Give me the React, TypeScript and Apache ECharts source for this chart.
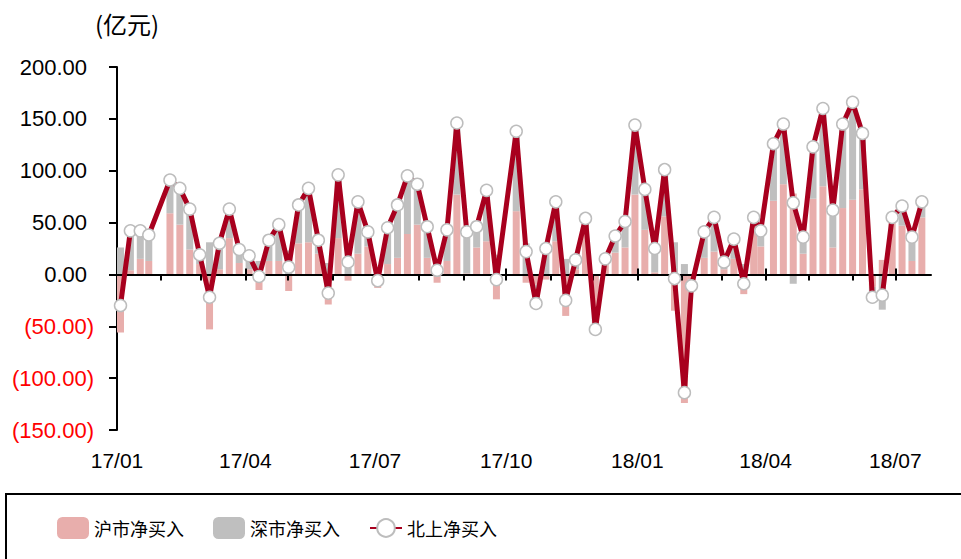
import React, { useEffect, useRef } from "react";
import * as echarts from "echarts";

// Weekly dates (last trading day of each week)
const dates = [
  "2017-01-06", "2017-01-13", "2017-01-20", "2017-01-26", "2017-02-10", "2017-02-17", "2017-02-24",
  "2017-03-03", "2017-03-10", "2017-03-17", "2017-03-24", "2017-03-31", "2017-04-07", "2017-04-14",
  "2017-04-21", "2017-04-28", "2017-05-05", "2017-05-12", "2017-05-19", "2017-05-26", "2017-06-02",
  "2017-06-09", "2017-06-16", "2017-06-23", "2017-06-30", "2017-07-07", "2017-07-14", "2017-07-21",
  "2017-07-28", "2017-08-04", "2017-08-11", "2017-08-18", "2017-08-25", "2017-09-01", "2017-09-08",
  "2017-09-15", "2017-09-22", "2017-09-29", "2017-10-13", "2017-10-20", "2017-10-27", "2017-11-03",
  "2017-11-10", "2017-11-17", "2017-11-24", "2017-12-01", "2017-12-08", "2017-12-15", "2017-12-22",
  "2017-12-29", "2018-01-05", "2018-01-12", "2018-01-19", "2018-01-26", "2018-02-02", "2018-02-09",
  "2018-02-14", "2018-02-23", "2018-03-02", "2018-03-09", "2018-03-16", "2018-03-23", "2018-03-30",
  "2018-04-04", "2018-04-13", "2018-04-20", "2018-04-27", "2018-05-04", "2018-05-11", "2018-05-18",
  "2018-05-25", "2018-06-01", "2018-06-08", "2018-06-15", "2018-06-22", "2018-06-29", "2018-07-06",
  "2018-07-13", "2018-07-20", "2018-07-27",
];

// 沪市净买入 (亿元)
const shanghai = [
  -56, 4, 15, 13, 59, 48, 24,
  10, -53, 5, 35, 11, 5, -15,
  13, 13, -16, 30, 31, 20, -29,
  35, -6, 20, 27, -13, 10, 16,
  39, 48, 16, -8, 13, 77, 1,
  26, 32, -24, 61, -8, -10, -5,
  32, -40, 5, 45, -40, 13, 21,
  26, 77, 43, 2, 56, -35, -124,
  -5, 16, 22, 5, 15, -19, 47,
  27, 71, 87, 78, 20, 73, 85,
  26, 64, 72, 82, -12, 14, 52,
  47, 13, 55,
];

// 深市净买入 (亿元)
const shenzhen = [
  26, 38, 27, 25, 32, 35, 39,
  9, 31, 25, 28, 13, 13, 13,
  20, 35, 23, 37, 52, 13, 11,
  61, 18, 50, 14, 7, 35, 51,
  56, 39, 30, 12, 30, 69, 40,
  20, 49, 19, 77, 30, -18, 30,
  38, 15, 9, 9, -13, 2, 16,
  25, 67, 39, 23, 45, 31, 10,
  -6, 25, 33, 7, 19, 10, 8,
  15, 55, 58, -9, 16, 50, 75,
  36, 81, 94, 54, -10, -34, 3,
  19, 23, 15,
];

// 北上净买入 (亿元)
const northbound = [
  -30, 42, 42, 38, 91, 83, 63,
  19, -22, 30, 63, 24, 18, -2,
  33, 48, 7, 67, 83, 33, -18,
  96, 12, 70, 41, -6, 45, 67,
  95, 87, 46, 4, 43, 146, 41,
  46, 81, -5, 138, 22, -28, 25,
  70, -25, 14, 54, -53, 15, 37,
  51, 144, 82, 25, 101, -4, -114,
  -11, 41, 55, 12, 34, -9, 55,
  42, 126, 145, 69, 36, 123, 160,
  62, 145, 166, 136, -22, -20, 55,
  66, 36, 70,
];

const axisStart = "2017-01-06";
const axisEnd = "2018-07-31";
const monthTicks = [
  "2017-02-06", "2017-03-06", "2017-04-06", "2017-05-06", "2017-06-06", "2017-07-06",
  "2017-08-06", "2017-09-06", "2017-10-06", "2017-11-06", "2017-12-06", "2018-01-06",
  "2018-02-06", "2018-03-06", "2018-04-06", "2018-05-06", "2018-06-06", "2018-07-06",
];
const quarterLabels = [
  "2017-01-06", "2017-04-06", "2017-07-06", "2017-10-06", "2018-01-06", "2018-04-06", "2018-07-06",
];

const Y_MIN = -150;
const Y_MAX = 200;
const Y_STEP = 50;

function ts(s: string): number {
  const [y, m, d] = s.split("-").map(Number);
  return Date.UTC(y, m - 1, d);
}

const LATIN = "'Liberation Sans', Arial, sans-serif";
const CJK = "'Noto Sans CJK SC', sans-serif";

export default function App() {
  const ref = useRef<HTMLDivElement>(null);

  useEffect(() => {
    if (!ref.current) return;
    const chart = echarts.init(ref.current, null, { renderer: "svg" });
    const min = ts(axisStart);
    const max = ts(axisEnd);
    const fmtDate = (v: number) => {
      const d = new Date(v);
      const yy = String(d.getUTCFullYear() % 100).padStart(2, "0");
      const mm = String(d.getUTCMonth() + 1).padStart(2, "0");
      return `${yy}/${mm}`;
    };

    chart.setOption({
      animation: false,
      useUTC: true,
      grid: { left: 117, right: 30, top: 67, bottom: 129, containLabel: false },
      legend: {
        left: 57,
        top: 517,
        padding: 0,
        itemWidth: 32,
        itemHeight: 22,
        itemGap: 29,
        textStyle: { fontFamily: CJK, fontSize: 18, color: "#000" },
        data: ["沪市净买入", "深市净买入", "北上净买入"],
      },
      graphic: [
        {
          type: "rect",
          shape: { x: 6, y: 494, width: 1000, height: 100 },
          style: { fill: "none", stroke: "#000", lineWidth: 2 },
          silent: true,
        },
        {
          type: "text",
          left: 95,
          top: 11,
          style: { text: "(亿元)", fontSize: 24, fontFamily: CJK, fill: "#000" },
        },
      ],
      xAxis: [
        {
          // data axis (time scale) carrying the series
          type: "time",
          min,
          max,
          position: "bottom",
          axisLine: { show: false, onZero: false },
          axisTick: { show: false },
          axisLabel: { show: false },
          splitLine: { show: false },
        },
        {
          // quarterly labels at the bottom of the plot
          type: "value",
          min,
          max,
          position: "bottom",
          axisLine: { show: false, onZero: false },
          axisTick: { show: false },
          splitLine: { show: false },
          axisLabel: {
            customValues: quarterLabels.map(ts),
            formatter: (v: number) => fmtDate(v),
            fontSize: 21,
            fontFamily: LATIN,
            color: "#000",
            margin: 20,
            hideOverlap: false,
          },
        },
        {
          // zero line with monthly ticks
          type: "value",
          min,
          max,
          position: "bottom",
          z: 3,
          axisLine: { show: true, onZero: true, onZeroAxisIndex: 0, lineStyle: { color: "#000", width: 2 } },
          axisTick: {
            show: true,
            customValues: monthTicks.map(ts),
            length: 6,
            lineStyle: { color: "#000", width: 2 },
          },
          axisLabel: { show: false },
          splitLine: { show: false },
        },
        {
          // quarterly crossing ticks
          type: "value",
          min,
          max,
          position: "bottom",
          z: 3,
          axisLine: { show: false, onZero: true, onZeroAxisIndex: 0 },
          axisTick: {
            show: true,
            inside: true,
            customValues: quarterLabels.slice(1).map(ts),
            length: 6,
            lineStyle: { color: "#000", width: 2 },
          },
          axisLabel: { show: false },
          splitLine: { show: false },
        },
      ],
      yAxis: {
        type: "value",
        min: Y_MIN,
        max: Y_MAX,
        interval: Y_STEP,
        axisLine: { show: true, onZero: false, lineStyle: { color: "#000", width: 2 } },
        axisTick: { show: true, length: 8, lineStyle: { color: "#000", width: 2 } },
        splitLine: { show: false },
        axisLabel: {
          margin: 23,
          formatter: (v: number) =>
            v < 0 ? `{neg|(${Math.abs(v).toFixed(2)})}` : `{pos|${v.toFixed(2)}}`,
          rich: {
            neg: { color: "#FF0000", fontSize: 22, fontFamily: LATIN },
            pos: { color: "#000", fontSize: 22, fontFamily: LATIN, padding: [0, 7, 0, 0] },
          },
        },
      },
      series: [
        {
          name: "沪市净买入",
          type: "bar",
          stack: "net",
          barWidth: 7,
          xAxisIndex: 0,
          itemStyle: { color: "#E8AEAC" },
          data: dates.map((d, i) => [ts(d), shanghai[i]]),
        },
        {
          name: "深市净买入",
          type: "bar",
          stack: "net",
          barWidth: 7,
          xAxisIndex: 0,
          itemStyle: { color: "#BFBFBF" },
          data: dates.map((d, i) => [ts(d), shenzhen[i]]),
        },
        {
          name: "北上净买入",
          type: "line",
          xAxisIndex: 0,
          z: 5,
          symbol: "circle",
          symbolSize: 12,
          showAllSymbol: true,
          lineStyle: { color: "#A8001E", width: 5 },
          itemStyle: { color: "#FFFFFF", borderColor: "#BDBDBD", borderWidth: 1.5 },
          data: dates.map((d, i) => [ts(d), northbound[i]]),
        },
      ],
    });

    return () => chart.dispose();
  }, []);

  return (
    <div
      ref={ref}
      style={{ position: "absolute", left: 0, top: 0, width: 961, height: 559, background: "#fff" }}
    />
  );
}
